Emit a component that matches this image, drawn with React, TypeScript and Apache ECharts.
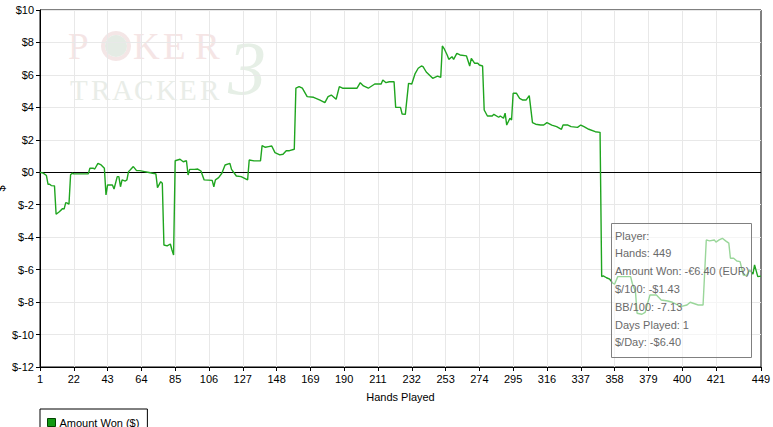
import React, { useEffect, useRef } from "react";
import * as echarts from "echarts";

const HANDS = [
  1, 3, 5, 6, 7, 8, 10, 11, 13, 15, 16, 17, 18, 19, 20, 21, 22, 31, 32, 34, 35, 37, 39, 41, 42, 43, 46, 47, 49, 50,
  51, 52, 54, 55, 56, 57, 59, 61, 63, 66, 68, 71, 73, 74, 76, 77, 78, 80, 82, 83, 84, 85, 88, 90, 92, 93, 94, 97, 99, 101,
  103, 108, 109, 110, 112, 114, 116, 119, 120, 123, 126, 130, 131, 134, 138, 139, 141, 143, 145, 147, 150, 152, 154, 156, 159, 160, 162, 164, 167, 171,
  175, 178, 180, 182, 185, 187, 189, 198, 200, 202, 205, 209, 213, 214, 216, 218, 221, 222, 225, 226, 228, 230, 232, 234, 236, 238, 239, 241, 245, 248,
  250, 251, 252, 254, 255, 257, 258, 260, 262, 266, 268, 269, 271, 273, 274, 276, 277, 279, 282, 283, 286, 287, 289, 290, 291, 293, 294, 295, 297, 299,
  301, 303, 305, 307, 309, 312, 314, 316, 319, 322, 325, 326, 329, 331, 335, 337, 339, 342, 346, 349, 350, 351, 353, 355, 357, 358, 360, 368, 369, 371,
  372, 375, 377, 380, 384, 387, 391, 394, 399, 403, 405, 410, 413, 415, 417, 420, 421, 423, 425, 427, 429, 430, 432, 434, 436, 438, 440, 442, 444, 445,
  447, 449,
];

const AMOUNT_WON = [
  0, -0.05, -0.2, -0.74, -0.74, -0.82, -0.84, -2.59, -2.43, -2.24, -2.26, -1.87, -1.9, -1.97, -0.15, -0.06, -0.1, -0.1, 0.25, 0.25, 0.2, 0.55, 0.45, 0.25, -1.4, -0.78, -0.78, -1.03, -0.27, -0.27,
  -0.89, -0.47, -0.54, -0.47, 0.04, 0.14, 0.35, 0.1, 0.1, 0.04, 0, -0.06, -0.1, -0.95, -0.58, -0.68, -4.48, -4.54, -4.42, -4.79, -5.1, 0.71, 0.8, 0.65, 0.71, -0.17, 0.18, 0.18, 0.2, 0.08,
  -0.47, -0.5, -0.89, -0.47, -0.33, -0.06, 0.45, 0.55, 0.18, -0.23, -0.27, -0.47, 0.76, 0.7, 0.7, 1.64, 1.54, 1.58, 1.62, 1.21, 1.07, 1.11, 1.33, 1.33, 1.42, 5.18, 5.28, 5.18, 4.66, 4.62,
  4.45, 4.29, 4.66, 4.76, 4.5, 5.28, 5.18, 5.18, 5.52, 5.32, 5.18, 5.44, 5.44, 5.69, 5.52, 5.58, 5.58, 4.0, 4.0, 3.59, 3.57, 5.48, 5.44, 6.06, 6.41, 6.55, 6.51, 6.18, 5.79, 5.93,
  5.85, 7.78, 7.64, 7.23, 6.96, 7.12, 6.96, 7.33, 7.23, 7.17, 6.55, 7.02, 6.72, 6.72, 6.61, 6.55, 3.84, 3.47, 3.47, 3.57, 3.39, 3.47, 3.33, 3.64, 2.91, 3.33, 3.22, 4.87, 4.87, 4.56,
  4.45, 4.45, 4.72, 3.06, 2.96, 2.91, 2.91, 3.06, 2.91, 2.81, 2.65, 2.91, 2.91, 2.81, 2.77, 2.91, 2.81, 2.65, 2.5, 2.46, -6.43, -6.39, -6.5, -6.59, -6.84, -6.9, -6.43, -6.43, -6.84, -7.36,
  -8.69, -8.75, -8.63, -7.56, -7.56, -7.87, -7.93, -8.01, -8.28, -8.18, -8.01, -8.18, -8.18, -4.17, -4.23, -4.17, -4.3, -4.17, -4.07, -4.23, -4.37, -5.3, -5.3, -5.47, -5.51, -6.33, -6.37, -6.02, -6.28, -5.71,
  -6.43, -6.4,
];

const TOTAL_HANDS = 449;
const TICK_STEP = 21;
const Y_MIN = -12;
const Y_MAX = 10;
const Y_STEP = 2;

const SERIES_NAME = "Amount Won ($)";
const X_NAME = "Hands Played";
const Y_NAME = "$";

const INFO_LINES = [
  "Player:",
  "Hands: 449",
  "Amount Won: -€6.40 (EUR)",
  "$/100: -$1.43",
  "BB/100: -7.13",
  "Days Played: 1",
  "$/Day: -$6.40",
];

const FONT = "'Liberation Sans', Arial, sans-serif";
const SERIF = "'Liberation Serif', 'DejaVu Serif', serif";

export default function App() {
  const ref = useRef<HTMLDivElement>(null);

  useEffect(() => {
    if (!ref.current) return;
    const chart = echarts.init(ref.current, undefined, { renderer: "svg" });

    const categories: string[] = [];
    for (let h = 1; h <= TOTAL_HANDS; h++) categories.push(String(h));
    const data = HANDS.map((h, i) => [h - 1, AMOUNT_WON[i]]);

    const isTick = (i: number) => (i % TICK_STEP === 0 && i <= TOTAL_HANDS - 1 - TICK_STEP) || i === TOTAL_HANDS - 1;
    const isGrid = (i: number) => i % TICK_STEP === 0 && i > 0 && i <= TOTAL_HANDS - 1 - TICK_STEP;

    const PINK = "#f5e5e5";
    const watermark: any[] = [
      { type: "text", x: 68, y: 28, z: -10, style: { text: "P", fontSize: 37, fontFamily: SERIF, fill: PINK } },
      { type: "ring", shape: { cx: 116, cy: 46, r: 15, r0: 11 }, z: -10, style: { fill: "#f4e6e6", stroke: "none" } },
      { type: "circle", shape: { cx: 116, cy: 46, r: 11 }, z: -10, style: { fill: "#e4ebe4", stroke: "none" } },
      { type: "text", x: 133, y: 28, z: -10, style: { text: "K", fontSize: 37, fontFamily: SERIF, fill: PINK } },
      { type: "text", x: 163, y: 28, z: -10, style: { text: "E", fontSize: 37, fontFamily: SERIF, fill: PINK } },
      { type: "text", x: 195, y: 28, z: -10, style: { text: "R", fontSize: 37, fontFamily: SERIF, fill: PINK } },
      { type: "text", x: 228, y: 30, z: -10, style: { text: "3", fontSize: 76, fontStyle: "italic", fontFamily: SERIF, fill: "#e6efe6" } },
    ];
    const trackerLetters = ["T", "R", "A", "C", "K", "E", "R"];
    const trackerX = [70, 91, 112, 134, 156, 179, 200];
    trackerLetters.forEach((ch, i) => {
      watermark.push({
        type: "text",
        x: trackerX[i],
        y: 75,
        z: -10,
        style: { text: ch, fontSize: 29, fontFamily: SERIF, fill: "#e9ede8" },
      });
    });

    const info: any[] = [
      {
        type: "rect",
        shape: { x: 611.5, y: 223.5, width: 140, height: 134 },
        z: 50,
        style: { fill: "rgba(255,255,255,0.55)", stroke: "#808080", lineWidth: 1 },
      },
      ...INFO_LINES.map((t, i) => ({
        type: "text",
        x: 615,
        y: 235.5 + i * 17.8,
        z: 51,
        style: { text: t, fontSize: 11, fontFamily: FONT, fill: "#6a6a6a", verticalAlign: "middle", align: "left" },
      })),
    ];

    chart.setOption({
      animation: false,
      backgroundColor: "#ffffff",
      textStyle: { fontFamily: FONT },
      grid: {
        left: 40,
        right: 12,
        top: 10,
        bottom: 60,
        containLabel: false,
        outerBoundsMode: "none",
        show: true,
        borderColor: "#000",
        borderWidth: 1,
        backgroundColor: "transparent",
      },
      legend: {
        left: 40,
        top: 409,
        orient: "horizontal",
        borderColor: "#000",
        borderWidth: 1,
        borderRadius: 0,
        padding: [8, 8, 8, 7],
        itemWidth: 8,
        itemHeight: 8,
        itemGap: 5,
        textStyle: { fontSize: 11, color: "#000", fontFamily: FONT, padding: [0, 0, 0, -1] },
        data: [
          {
            name: SERIES_NAME,
            icon: "rect",
            itemStyle: { color: "#129912", borderColor: "#004400", borderWidth: 1 },
          },
        ],
      },
      xAxis: {
        type: "category",
        data: categories,
        boundaryGap: false,
        name: X_NAME,
        nameLocation: "middle",
        nameGap: 24,
        nameTextStyle: { fontSize: 11, color: "#000", fontFamily: FONT },
        axisLine: { onZero: false, lineStyle: { color: "#000", width: 1 } },
        axisTick: { show: true, interval: (i: number) => isTick(i), length: 4, lineStyle: { color: "#000" } },
        axisLabel: { interval: (i: number) => isTick(i), fontSize: 11, color: "#000", margin: 6, fontFamily: FONT },
        splitLine: { show: true, interval: (i: number) => isGrid(i), lineStyle: { color: "#e8e8e8", width: 1 } },
      },
      yAxis: {
        type: "value",
        min: Y_MIN,
        max: Y_MAX,
        interval: Y_STEP,
        name: Y_NAME,
        nameLocation: "middle",
        nameGap: 34,
        nameRotate: 90,
        nameMoveOverlap: false,
        nameTextStyle: { fontSize: 11, color: "#000", fontFamily: FONT },
        axisLine: { show: true, lineStyle: { color: "#000", width: 1 } },
        axisTick: { show: true, length: 4, lineStyle: { color: "#000" } },
        axisLabel: { formatter: (v: number) => "$" + v, fontSize: 11, color: "#000", margin: 6, fontFamily: FONT },
        splitLine: { show: true, lineStyle: { color: "#e8e8e8", width: 1 } },
      },
      series: [
        {
          name: SERIES_NAME,
          type: "line",
          data,
          showSymbol: false,
          symbol: "none",
          lineStyle: { color: "#1fa51f", width: 1.4 },
          itemStyle: { color: "#129912" },
          z: 3,
          markLine: {
            silent: true,
            symbol: "none",
            label: { show: false },
            lineStyle: { color: "#000", type: "solid", width: 1 },
            data: [{ yAxis: 0 }],
            z: 2,
          },
        },
      ],
      graphic: [...watermark, ...info],
    });

    return () => chart.dispose();
  }, []);

  return (
    <div
      ref={ref}
      style={{ position: "absolute", left: 0, top: 0, width: 773, height: 427, background: "#fff" }}
    />
  );
}
